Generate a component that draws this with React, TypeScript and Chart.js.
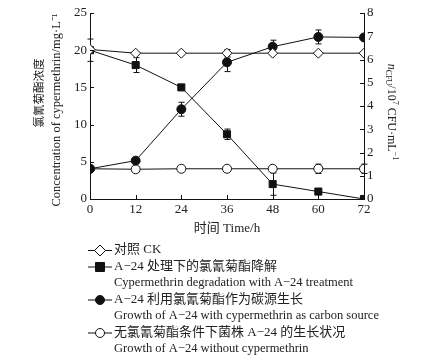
import React, { useEffect, useRef } from "react";
import { Chart, registerables } from "chart.js";
Chart.register(...registerables);

const hours = [0, 12, 24, 36, 48, 60, 72];
const ckConc = [20.1, 19.6, 19.6, 19.6, 19.6, 19.6, 19.6];
const ckErr = [0, 0, 0, 0.5, 0, 0, 0];
const degConc = [20.0, 18.0, 15.0, 8.7, 2.0, 1.0, 0.0];
const degErr = [1.5, 1.0, 0, 0.7, 1.5, 0.3, 0];
const growthWith = [1.3, 1.65, 3.86, 5.88, 6.55, 6.97, 6.95];
const growthWithErr = [0, 0, 0.3, 0.4, 0.28, 0.3, 0];
const growthWithout = [1.3, 1.28, 1.3, 1.3, 1.3, 1.3, 1.3];
const growthWithoutErr = [0, 0.1, 0, 0, 0, 0.2, 0.2];
const errs = [ckErr, degErr, growthWithErr, growthWithoutErr];

const leftTitle = ["氯氰菊酯浓度", "Concentration of cypermethrin/mg·L⁻¹"];
// segments: [text, kind] kind: n=normal, i=italic, sub=subscript, sup=superscript
const rightTitle: [string, string][] = [
  ["n", "i"], ["CFU", "sub"], ["/10", "n"], ["7", "sup"], [" CFU·mL", "n"], ["−1", "sup"],
];
const xTitle = "时间 Time/h";
const legendItems = [
  { style: "rectRot", fill: "#fff", lines: ["对照 CK"] },
  { style: "rect", fill: "#111", lines: ["A−24 处理下的氯氰菊酯降解", "Cypermethrin degradation with A−24 treatment"] },
  { style: "circle", fill: "#111", lines: ["A−24 利用氯氰菊酯作为碳源生长", "Growth of A−24 with cypermethrin as carbon source"] },
  { style: "circle", fill: "#fff", lines: ["无氯氰菊酯条件下菌株 A−24 的生长状况", "Growth of A−24 without cypermethrin"] },
];

const FONT = '"Liberation Serif", "Noto Sans CJK SC", serif';

function drawMarker(ctx: CanvasRenderingContext2D, style: string, x: number, y: number, fill: string) {
  ctx.save();
  ctx.fillStyle = fill;
  ctx.strokeStyle = "#111";
  ctx.lineWidth = 1;
  ctx.beginPath();
  if (style === "circle") ctx.arc(x, y, 4.5, 0, Math.PI * 2);
  else if (style === "rect") ctx.rect(x - 4.5, y - 4.5, 9, 9);
  else {
    ctx.moveTo(x, y - 5.5); ctx.lineTo(x + 5.5, y); ctx.lineTo(x, y + 5.5); ctx.lineTo(x - 5.5, y); ctx.closePath();
  }
  ctx.fill();
  ctx.stroke();
  ctx.restore();
}

function segFont(kind: string) {
  if (kind === "i") return `italic 12px ${FONT}`;
  if (kind === "sub" || kind === "sup") return `8px ${FONT}`;
  return `12px ${FONT}`;
}

const extras = {
  id: "extras",
  beforeDatasetsDraw(chart: any) {
    const ctx = chart.ctx;
    ctx.save();
    ctx.strokeStyle = "#111";
    ctx.lineWidth = 1;
    chart.data.datasets.forEach((ds: any, i: number) => {
      const yScale = chart.scales[ds.yAxisID];
      const xs = chart.scales.x;
      ds.data.forEach((v: number, j: number) => {
        const e = errs[i][j];
        if (!e) return;
        const x = Math.round(xs.getPixelForValue(hours[j])) + 0.5;
        const y1 = yScale.getPixelForValue(v + e);
        const y2 = yScale.getPixelForValue(Math.max(v - e, yScale.min));
        ctx.beginPath();
        ctx.moveTo(x, y1); ctx.lineTo(x, y2);
        ctx.moveTo(x - 3, y1); ctx.lineTo(x + 3, y1);
        ctx.moveTo(x - 3, y2); ctx.lineTo(x + 3, y2);
        ctx.stroke();
      });
    });
    ctx.restore();
  },
  afterDraw(chart: any) {
    const ctx = chart.ctx;
    const { x, y, y1 } = chart.scales;
    ctx.save();
    ctx.strokeStyle = "#111";
    ctx.lineWidth = 1;
    ctx.beginPath();
    x.ticks.forEach((t: any) => {
      const px = Math.round(x.getPixelForValue(t.value)) + 0.5;
      ctx.moveTo(px, y.bottom); ctx.lineTo(px, y.bottom - 4);
    });
    y.ticks.forEach((t: any) => {
      const py = Math.round(y.getPixelForValue(t.value)) + 0.5;
      ctx.moveTo(x.left, py); ctx.lineTo(x.left + 4, py);
    });
    y1.ticks.forEach((t: any) => {
      const py = Math.round(y1.getPixelForValue(t.value)) + 0.5;
      ctx.moveTo(x.right, py); ctx.lineTo(x.right - 4, py);
    });
    ctx.stroke();

    ctx.fillStyle = "#222";
    ctx.textAlign = "center";
    ctx.textBaseline = "middle";
    // left titles
    ctx.save();
    ctx.translate(40, 93);
    ctx.rotate(-Math.PI / 2);
    ctx.font = `11.5px ${FONT}`;
    ctx.fillText(leftTitle[0], 0, 0);
    ctx.restore();
    ctx.save();
    ctx.translate(57, 110);
    ctx.rotate(-Math.PI / 2);
    ctx.font = `12.5px ${FONT}`;
    ctx.fillText(leftTitle[1], 0, 0);
    ctx.restore();
    // right title
    ctx.save();
    ctx.translate(391, 112);
    ctx.rotate(Math.PI / 2);
    ctx.textAlign = "left";
    let total = 0;
    rightTitle.forEach(([t, k]) => { ctx.font = segFont(k); total += ctx.measureText(t).width; });
    let cx = -total / 2;
    rightTitle.forEach(([t, k]) => {
      ctx.font = segFont(k);
      const dy = k === "sub" ? 3 : k === "sup" ? -4 : 0;
      ctx.fillText(t, cx, dy);
      cx += ctx.measureText(t).width;
    });
    ctx.restore();
    // x title
    ctx.font = `13px ${FONT}`;
    ctx.fillText(xTitle, 227, 229);

    // legend
    ctx.textAlign = "left";
    let ly = 250;
    legendItems.forEach((it) => {
      ctx.beginPath();
      ctx.moveTo(88, ly + 0.5); ctx.lineTo(112, ly + 0.5);
      ctx.stroke();
      drawMarker(ctx, it.style, 100, ly + 0.5, it.fill);
      it.lines.forEach((l, k) => {
        ctx.font = k === 0 ? `13px ${FONT}` : `12.5px ${FONT}`;
        ctx.fillText(l, 114, ly + k * 16.5);
      });
      ly += it.lines.length * 16.5;
    });
    ctx.restore();
  },
};

export default function App() {
  const ref = useRef<HTMLCanvasElement>(null);
  useEffect(() => {
    const tickFont = { family: FONT, size: 13 };
    const mk = (label: string, data: number[], axis: string, style: string, fill: string, r: number) => ({
      label,
      data,
      yAxisID: axis,
      borderColor: "#111",
      borderWidth: 1,
      pointStyle: style,
      pointRadius: r,
      pointBackgroundColor: fill,
      pointBorderColor: "#111",
      pointBorderWidth: 1,
      tension: 0,
    });
    const chart = new Chart(ref.current!, {
      type: "line",
      data: {
        labels: hours,
        datasets: [
          mk("CK", ckConc, "y", "rectRot", "#fff", 5),
          mk("deg", degConc, "y", "rect", "#111", 5),
          mk("with", growthWith, "y1", "circle", "#111", 4.5),
          mk("without", growthWithout, "y1", "circle", "#fff", 4.5),
        ],
      },
      options: {
        animation: false,
        responsive: false,
        layout: { padding: { top: 13, left: 0, right: 0, bottom: 0 } },
        plugins: { legend: { display: false }, tooltip: { enabled: false } },
        scales: {
          x: {
            type: "linear",
            min: 0,
            max: 72,
            ticks: { stepSize: 12, font: tickFont, color: "#222", padding: 3 },
            grid: { display: false, drawTicks: false },
            border: { display: true, color: "#111", width: 1 },
            afterFit: (s: any) => { s.height = 161; },
          },
          y: {
            position: "left",
            min: 0,
            max: 25,
            ticks: { stepSize: 5, font: tickFont, color: "#222", padding: 3 },
            grid: { display: false, drawTicks: false },
            border: { display: true, color: "#111", width: 1 },
            afterFit: (s: any) => { s.width = 90; },
          },
          y1: {
            position: "right",
            min: 0,
            max: 8,
            ticks: { stepSize: 1, font: tickFont, color: "#222", padding: 3 },
            grid: { display: false, drawTicks: false },
            border: { display: true, color: "#111", width: 1 },
            afterFit: (s: any) => { s.width = 65; },
          },
        },
      } as any,
      plugins: [extras],
    });
    return () => chart.destroy();
  }, []);
  return (
    <div style={{ position: "absolute", left: 0, top: 0, width: 429, height: 360, background: "#fff" }}>
      <canvas ref={ref} width={429} height={360} style={{ display: "block" }} />
    </div>
  );
}
